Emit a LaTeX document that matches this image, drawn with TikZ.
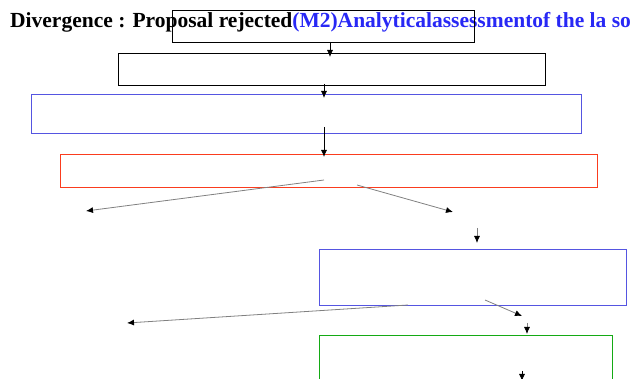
\documentclass[tikz,border=0pt]{standalone}
\usepackage{fontspec}
\setmainfont{Liberation Serif}
\usetikzlibrary{arrows.meta}
\definecolor{boxblue}{RGB}{85,85,225}
\definecolor{titleblue}{RGB}{40,40,245}
\definecolor{boxred}{RGB}{250,60,30}
\definecolor{boxgreen}{RGB}{20,170,20}
\tikzset{
  box/.style={draw, rectangle, inner sep=0pt, line width=0.9pt},
  arr/.style={-{Latex[length=7pt,width=6pt,color=black]}, line width=0.8pt},
  garr/.style={arr, draw=gray}
}
\begin{document}
\begin{tikzpicture}[x=1pt, y=-1pt]
  \useasboundingbox (0,0) rectangle (633,379);
  \clip (0,0) rectangle (633,379);
  \node[anchor=base west, inner sep=0pt, font=\bfseries\fontsize{21.5}{24}\selectfont] (title) at (10,28)
    {Divergence : Proposal rejected\textcolor{titleblue}{(M2)Analyticalassessmentof the la so}};
  % boxes
  \node[box, minimum width=302pt, minimum height=32pt] (b1) at (323,26) {};
  \node[box, minimum width=427pt, minimum height=32pt] (b2) at (331.5,69) {};
  \node[box, draw=boxblue, minimum width=550pt, minimum height=39pt] (b3) at (306,113.5) {};
  \node[box, draw=boxred, minimum width=537pt, minimum height=33pt] (b4) at (328.5,170.5) {};
  \node[box, draw=boxblue, minimum width=307pt, minimum height=56pt] (b5) at (472.5,277) {};
  \node[box, draw=boxgreen, minimum width=293pt, minimum height=60pt] (b6) at (465.5,365) {};
  % arrow ends
  \coordinate (s1) at (330,42);  \coordinate (e1) at (330,57);
  \coordinate (s2) at (324,84);  \coordinate (e2) at (324,98);
  \coordinate (s3) at (324,127); \coordinate (e3) at (324,157);
  \coordinate (s4) at (324,180); \coordinate (e4) at (86,211);
  \coordinate (s5) at (357,185); \coordinate (e5) at (453,212);
  \coordinate (s6) at (477,228); \coordinate (e6) at (477,243);
  \coordinate (s7) at (408,305); \coordinate (e7) at (127,323);
  \coordinate (s8) at (485,300); \coordinate (e8) at (522,316);
  \coordinate (s9) at (527,323); \coordinate (e9) at (527,334);
  \coordinate (s10) at (522,371); \coordinate (e10) at (522,381);
  \draw[arr] (s1) -- (e1);
  \draw[arr] (s2) -- (e2);
  \draw[arr] (s3) -- (e3);
  \draw[garr] (s4) -- (e4);
  \draw[garr] (s5) -- (e5);
  \draw[garr] (s6) -- (e6);
  \draw[garr] (s7) -- (e7);
  \draw[garr] (s8) -- (e8);
  \draw[garr] (s9) -- (e9);
  \draw[arr] (s10) -- (e10);
\end{tikzpicture}
\end{document}
